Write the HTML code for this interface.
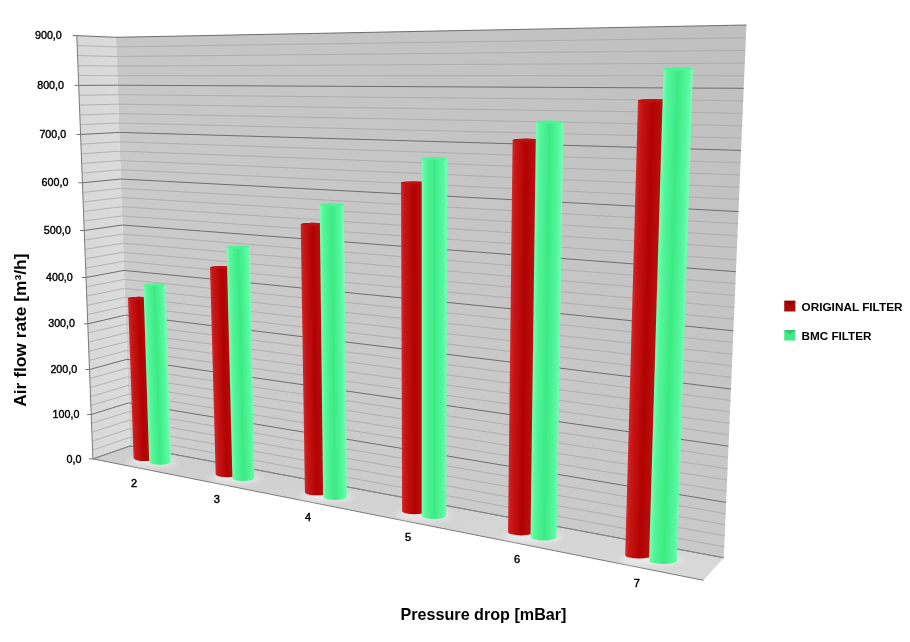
<!DOCTYPE html>
<html><head><meta charset="utf-8"><title>Air flow rate vs pressure drop</title>
<style>html,body{margin:0;padding:0;background:#fff;}svg{display:block;}</style></head>
<body>
<svg width="910" height="642" viewBox="0 0 910 642">
<defs>
<linearGradient id="gBack" x1="130" y1="446" x2="560" y2="-180" gradientUnits="userSpaceOnUse">
<stop offset="0" stop-color="#cfcfcf"/><stop offset="0.5" stop-color="#c6c6c6"/><stop offset="1" stop-color="#bebebe"/></linearGradient>
<linearGradient id="gSide" x1="76" y1="0" x2="130" y2="0" gradientUnits="userSpaceOnUse">
<stop offset="0" stop-color="#d8d8d8"/><stop offset="1" stop-color="#dcdcdc"/></linearGradient>
<linearGradient id="gFloor" x1="0" y1="0" x2="0.1" y2="1">
<stop offset="0" stop-color="#cecece"/><stop offset="1" stop-color="#d8d8d8"/></linearGradient>
<linearGradient id="gRed" x1="0" y1="0" x2="1" y2="0">
<stop offset="0" stop-color="#cc3a3a"/><stop offset="0.12" stop-color="#c01c1c"/><stop offset="0.5" stop-color="#a80404"/><stop offset="0.85" stop-color="#b81414"/><stop offset="1" stop-color="#c22222"/></linearGradient>
<linearGradient id="gGreen" x1="0" y1="0" x2="1" y2="0">
<stop offset="0" stop-color="#7dffb8"/><stop offset="0.15" stop-color="#5cf8a0"/><stop offset="0.5" stop-color="#46f08c"/><stop offset="0.85" stop-color="#64fcaa"/><stop offset="1" stop-color="#86ffc0"/></linearGradient>
<filter id="blur" color-interpolation-filters="sRGB" x="-50%" y="-50%" width="200%" height="200%"><feGaussianBlur stdDeviation="3"/></filter>
<filter id="soft" color-interpolation-filters="sRGB" x="-5%" y="-5%" width="110%" height="110%"><feGaussianBlur stdDeviation="0.5"/></filter>
</defs>
<rect width="910" height="642" fill="#ffffff"/>
<polygon points="92.9,458.9 130.0,446.0 723.8,557.8 703.5,580.3" fill="url(#gFloor)"/>
<polygon points="76.8,35.6 116.0,37.3 130.0,446.0 92.9,458.9" fill="url(#gSide)"/>
<polygon points="116.0,37.3 746.4,25.0 723.8,557.8 130.0,446.0" fill="url(#gBack)"/>
<path d="M92.6,450.1 L129.7,437.4 L724.3,546.8 M92.2,441.2 L129.4,428.8 L724.7,535.8 M91.9,432.3 L129.1,420.2 L725.2,524.7 M91.6,423.4 L128.8,411.6 L725.7,513.6 M90.9,405.5 L128.2,394.3 L726.6,491.3 M90.5,396.6 L127.9,385.6 L727.1,480.0 M90.2,387.6 L127.6,376.8 L727.6,468.8 M89.8,378.5 L127.3,368.1 L728.1,457.5 M89.2,360.4 L126.7,350.5 L729.0,434.8 M88.8,351.3 L126.4,341.7 L729.5,423.4 M88.5,342.1 L126.1,332.9 L730.0,412.0 M88.1,333.0 L125.8,324.0 L730.5,400.5 M87.4,314.6 L125.2,306.2 L731.5,377.4 M87.1,305.4 L124.9,297.3 L731.9,365.8 M86.7,296.1 L124.6,288.4 L732.4,354.2 M86.4,286.8 L124.3,279.4 L732.9,342.5 M85.6,268.1 L123.7,261.3 L733.9,319.1 M85.3,258.8 L123.4,252.3 L734.4,307.3 M84.9,249.4 L123.1,243.2 L734.9,295.5 M84.6,240.0 L122.7,234.1 L735.4,283.6 M83.9,221.0 L122.1,215.9 L736.4,259.8 M83.5,211.5 L121.8,206.7 L737.0,247.8 M83.1,202.0 L121.5,197.5 L737.5,235.8 M82.8,192.4 L121.2,188.3 L738.0,223.7 M82.0,173.2 L120.5,169.7 L739.0,199.4 M81.7,163.6 L120.2,160.5 L739.5,187.3 M81.3,153.9 L119.9,151.1 L740.0,175.0 M80.9,144.2 L119.6,141.8 L740.6,162.8 M80.2,124.7 L118.9,123.0 L741.6,138.1 M79.8,114.9 L118.6,113.6 L742.1,125.7 M79.4,105.1 L118.3,104.2 L742.7,113.3 M79.1,95.3 L118.0,94.7 L743.2,100.8 M78.3,75.5 L117.3,75.7 L744.2,75.7 M77.9,65.6 L117.0,66.1 L744.8,63.1 M77.6,55.6 L116.7,56.5 L745.3,50.4 M77.2,45.6 L116.3,46.9 L745.9,37.7" fill="none" stroke="#a8a8a8" stroke-width="0.8"/>
<path d="M92.9,458.9 L130.0,446.0 L723.8,557.8 M91.2,414.5 L128.5,402.9 L726.1,502.4 M89.5,369.5 L127.0,359.3 L728.5,446.2 M87.8,323.8 L125.5,315.1 L731.0,389.0 M86.0,277.5 L124.0,270.4 L733.4,330.8 M84.2,230.5 L122.4,225.0 L735.9,271.7 M82.4,182.8 L120.9,179.0 L738.5,211.6 M80.6,134.5 L119.3,132.4 L741.1,150.4 M78.7,85.4 L117.6,85.2 L743.7,88.3 M76.8,35.6 L116.0,37.3 L746.4,25.0" fill="none" stroke="#6e6e6e" stroke-width="1"/>
<path d="M88.9,458.9 L92.9,458.9 M87.2,414.5 L91.2,414.5 M85.5,369.5 L89.5,369.5 M83.8,323.8 L87.8,323.8 M82.0,277.5 L86.0,277.5 M80.2,230.5 L84.2,230.5 M78.4,182.8 L82.4,182.8 M76.6,134.5 L80.6,134.5 M74.7,85.4 L78.7,85.4 M72.8,35.6 L76.8,35.6" stroke="#6e6e6e" stroke-width="1" fill="none"/>
<path d="M76.8,35.6 L92.9,458.9 L703.5,580.3" fill="none" stroke="#7a7a7a" stroke-width="1"/>
<path d="M92.9,458.9 L130.0,446.0 L723.8,557.8" fill="none" stroke="#8a8a8a" stroke-width="0.8"/>
<g filter="url(#blur)"><ellipse cx="152.3" cy="461.9" rx="24.7" ry="4.5" fill="#ffffff" opacity="0.55"/><ellipse cx="234.9" cy="478.3" rx="25.2" ry="4.5" fill="#ffffff" opacity="0.55"/><ellipse cx="325.9" cy="496.6" rx="27.1" ry="4.5" fill="#ffffff" opacity="0.55"/><ellipse cx="424.1" cy="515.5" rx="28.0" ry="4.5" fill="#ffffff" opacity="0.55"/><ellipse cx="532.3" cy="537.0" rx="30.3" ry="4.5" fill="#ffffff" opacity="0.55"/><ellipse cx="651.1" cy="560.2" rx="31.9" ry="4.5" fill="#ffffff" opacity="0.55"/></g>
<g filter="url(#soft)">
<linearGradient id="g1" gradientUnits="userSpaceOnUse" x1="128.0" y1="296.8" x2="150.1" y2="296.8" gradientTransform="matrix(1 0 0.0341 1 -10.12 0)"><stop offset="0" stop-color="#d22a2a"/><stop offset="0.12" stop-color="#c81616"/><stop offset="0.5" stop-color="#b00202"/><stop offset="0.85" stop-color="#bc1010"/><stop offset="1" stop-color="#c81c1c"/></linearGradient>
<path d="M128.0,298.1 A11.0,1.3 0 0 1 150.1,298.1 L156.3,458.0 A11.3,3.0 0 0 1 133.6,458.0 Z" fill="url(#g1)"/>
<ellipse cx="139.1" cy="298.1" rx="11.0" ry="1.3" fill="#bc1212"/>
<linearGradient id="g2" gradientUnits="userSpaceOnUse" x1="143.4" y1="283.7" x2="165.5" y2="283.7" gradientTransform="matrix(1 0 0.0320 1 -9.09 0)"><stop offset="0" stop-color="#78ffb4"/><stop offset="0.15" stop-color="#54f69a"/><stop offset="0.5" stop-color="#3cea84"/><stop offset="0.85" stop-color="#58f8a0"/><stop offset="1" stop-color="#7affb8"/></linearGradient>
<path d="M143.4,285.0 A11.0,1.3 0 0 1 165.5,285.0 L171.0,462.0 A10.9,2.8 0 0 1 149.2,462.0 Z" fill="url(#g2)"/>
<ellipse cx="154.4" cy="285.0" rx="11.0" ry="1.3" fill="#50f496"/>
<linearGradient id="g3" gradientUnits="userSpaceOnUse" x1="210.0" y1="266.0" x2="233.4" y2="266.0" gradientTransform="matrix(1 0 0.0269 1 -7.17 0)"><stop offset="0" stop-color="#d22a2a"/><stop offset="0.12" stop-color="#c81616"/><stop offset="0.5" stop-color="#b00202"/><stop offset="0.85" stop-color="#bc1010"/><stop offset="1" stop-color="#c81c1c"/></linearGradient>
<path d="M210.0,267.4 A11.7,1.4 0 0 1 233.4,267.4 L239.2,474.5 A11.8,3.1 0 0 1 215.7,474.5 Z" fill="url(#g3)"/>
<ellipse cx="221.7" cy="267.4" rx="11.7" ry="1.4" fill="#bc1212"/>
<linearGradient id="g4" gradientUnits="userSpaceOnUse" x1="226.6" y1="245.7" x2="250.0" y2="245.7" gradientTransform="matrix(1 0 0.0246 1 -6.06 0)"><stop offset="0" stop-color="#78ffb4"/><stop offset="0.15" stop-color="#54f69a"/><stop offset="0.5" stop-color="#3cea84"/><stop offset="0.85" stop-color="#58f8a0"/><stop offset="1" stop-color="#7affb8"/></linearGradient>
<path d="M226.6,247.1 A11.7,1.4 0 0 1 250.0,247.1 L254.2,478.2 A10.9,2.8 0 0 1 232.4,478.2 Z" fill="url(#g4)"/>
<ellipse cx="238.3" cy="247.1" rx="11.7" ry="1.4" fill="#50f496"/>
<linearGradient id="g5" gradientUnits="userSpaceOnUse" x1="300.7" y1="222.8" x2="324.9" y2="222.8" gradientTransform="matrix(1 0 0.0154 1 -3.43 0)"><stop offset="0" stop-color="#d22a2a"/><stop offset="0.12" stop-color="#c81616"/><stop offset="0.5" stop-color="#b00202"/><stop offset="0.85" stop-color="#bc1010"/><stop offset="1" stop-color="#c81c1c"/></linearGradient>
<path d="M300.7,224.3 A12.1,1.5 0 0 1 324.9,224.3 L328.3,492.3 A11.7,3.0 0 0 1 304.9,492.3 Z" fill="url(#g5)"/>
<ellipse cx="312.8" cy="224.3" rx="12.1" ry="1.5" fill="#bc1212"/>
<linearGradient id="g6" gradientUnits="userSpaceOnUse" x1="319.7" y1="203.4" x2="343.9" y2="203.4" gradientTransform="matrix(1 0 0.0115 1 -2.33 0)"><stop offset="0" stop-color="#78ffb4"/><stop offset="0.15" stop-color="#54f69a"/><stop offset="0.5" stop-color="#3cea84"/><stop offset="0.85" stop-color="#58f8a0"/><stop offset="1" stop-color="#7affb8"/></linearGradient>
<path d="M319.7,204.9 A12.1,1.5 0 0 1 343.9,204.9 L347.0,496.9 A11.9,3.1 0 0 1 323.1,496.9 Z" fill="url(#g6)"/>
<ellipse cx="331.8" cy="204.9" rx="12.1" ry="1.5" fill="#50f496"/>
<linearGradient id="g7" gradientUnits="userSpaceOnUse" x1="401.0" y1="181.4" x2="426.6" y2="181.4" gradientTransform="matrix(1 0 0.0033 1 -0.60 0)"><stop offset="0" stop-color="#d22a2a"/><stop offset="0.12" stop-color="#c81616"/><stop offset="0.5" stop-color="#b00202"/><stop offset="0.85" stop-color="#bc1010"/><stop offset="1" stop-color="#c81c1c"/></linearGradient>
<path d="M401.0,182.9 A12.8,1.5 0 0 1 426.6,182.9 L426.6,511.0 A12.2,3.2 0 0 1 402.1,511.0 Z" fill="url(#g7)"/>
<ellipse cx="413.8" cy="182.9" rx="12.8" ry="1.5" fill="#bc1212"/>
<linearGradient id="g8" gradientUnits="userSpaceOnUse" x1="421.7" y1="157.3" x2="447.3" y2="157.3" gradientTransform="matrix(1 0 0.0000 1 -0.00 0)"><stop offset="0" stop-color="#78ffb4"/><stop offset="0.15" stop-color="#54f69a"/><stop offset="0.5" stop-color="#3cea84"/><stop offset="0.85" stop-color="#58f8a0"/><stop offset="1" stop-color="#7affb8"/></linearGradient>
<path d="M421.7,158.8 A12.8,1.5 0 0 1 447.3,158.8 L446.2,515.7 A12.2,3.2 0 0 1 421.7,515.7 Z" fill="url(#g8)"/>
<ellipse cx="434.5" cy="158.8" rx="12.8" ry="1.5" fill="#50f496"/>
<linearGradient id="g9" gradientUnits="userSpaceOnUse" x1="512.6" y1="138.6" x2="540.1" y2="138.6" gradientTransform="matrix(1 0 -0.0116 1 1.61 0)"><stop offset="0" stop-color="#d22a2a"/><stop offset="0.12" stop-color="#c81616"/><stop offset="0.5" stop-color="#b00202"/><stop offset="0.85" stop-color="#bc1010"/><stop offset="1" stop-color="#c81c1c"/></linearGradient>
<path d="M512.6,140.2 A13.8,1.6 0 0 1 540.1,140.2 L534.6,531.9 A13.3,3.5 0 0 1 508.0,531.9 Z" fill="url(#g9)"/>
<ellipse cx="526.4" cy="140.2" rx="13.8" ry="1.6" fill="#bc1212"/>
<linearGradient id="g10" gradientUnits="userSpaceOnUse" x1="536.0" y1="120.4" x2="563.5" y2="120.4" gradientTransform="matrix(1 0 -0.0131 1 1.58 0)"><stop offset="0" stop-color="#78ffb4"/><stop offset="0.15" stop-color="#54f69a"/><stop offset="0.5" stop-color="#3cea84"/><stop offset="0.85" stop-color="#58f8a0"/><stop offset="1" stop-color="#7affb8"/></linearGradient>
<path d="M536.0,122.1 A13.8,1.6 0 0 1 563.5,122.1 L556.6,537.3 A13.1,3.4 0 0 1 530.5,537.3 Z" fill="url(#g10)"/>
<ellipse cx="549.8" cy="122.1" rx="13.8" ry="1.6" fill="#50f496"/>
<linearGradient id="g11" gradientUnits="userSpaceOnUse" x1="638.0" y1="99.0" x2="667.5" y2="99.0" gradientTransform="matrix(1 0 -0.0279 1 2.76 0)"><stop offset="0" stop-color="#d22a2a"/><stop offset="0.12" stop-color="#c81616"/><stop offset="0.5" stop-color="#b00202"/><stop offset="0.85" stop-color="#bc1010"/><stop offset="1" stop-color="#c81c1c"/></linearGradient>
<path d="M638.0,100.8 A14.8,1.8 0 0 1 667.5,100.8 L653.0,554.9 A13.9,3.6 0 0 1 625.2,554.9 Z" fill="url(#g11)"/>
<ellipse cx="652.8" cy="100.8" rx="14.8" ry="1.8" fill="#bc1212"/>
<linearGradient id="g12" gradientUnits="userSpaceOnUse" x1="663.5" y1="67.2" x2="693.0" y2="67.2" gradientTransform="matrix(1 0 -0.0292 1 1.96 0)"><stop offset="0" stop-color="#78ffb4"/><stop offset="0.15" stop-color="#54f69a"/><stop offset="0.5" stop-color="#3cea84"/><stop offset="0.85" stop-color="#58f8a0"/><stop offset="1" stop-color="#7affb8"/></linearGradient>
<path d="M663.5,69.0 A14.8,1.8 0 0 1 693.0,69.0 L677.0,560.4 A14.0,3.6 0 0 1 649.0,560.4 Z" fill="url(#g12)"/>
<ellipse cx="678.2" cy="69.0" rx="14.8" ry="1.8" fill="#50f496"/>
</g>
<text x="81.6" y="462.5" font-family="Liberation Sans, Arial, sans-serif" font-size="11" stroke="#000" stroke-width="0.4" text-anchor="end" textLength="15" lengthAdjust="spacingAndGlyphs" fill="#000">0,0</text>
<text x="79.4" y="418.1" font-family="Liberation Sans, Arial, sans-serif" font-size="11" stroke="#000" stroke-width="0.4" text-anchor="end" textLength="26.8" lengthAdjust="spacingAndGlyphs" fill="#000">100,0</text>
<text x="77.2" y="373.1" font-family="Liberation Sans, Arial, sans-serif" font-size="11" stroke="#000" stroke-width="0.4" text-anchor="end" textLength="26.8" lengthAdjust="spacingAndGlyphs" fill="#000">200,0</text>
<text x="75.0" y="327.4" font-family="Liberation Sans, Arial, sans-serif" font-size="11" stroke="#000" stroke-width="0.4" text-anchor="end" textLength="26.8" lengthAdjust="spacingAndGlyphs" fill="#000">300,0</text>
<text x="72.8" y="281.1" font-family="Liberation Sans, Arial, sans-serif" font-size="11" stroke="#000" stroke-width="0.4" text-anchor="end" textLength="26.8" lengthAdjust="spacingAndGlyphs" fill="#000">400,0</text>
<text x="70.6" y="234.1" font-family="Liberation Sans, Arial, sans-serif" font-size="11" stroke="#000" stroke-width="0.4" text-anchor="end" textLength="26.8" lengthAdjust="spacingAndGlyphs" fill="#000">500,0</text>
<text x="68.4" y="186.4" font-family="Liberation Sans, Arial, sans-serif" font-size="11" stroke="#000" stroke-width="0.4" text-anchor="end" textLength="26.8" lengthAdjust="spacingAndGlyphs" fill="#000">600,0</text>
<text x="66.2" y="138.1" font-family="Liberation Sans, Arial, sans-serif" font-size="11" stroke="#000" stroke-width="0.4" text-anchor="end" textLength="26.8" lengthAdjust="spacingAndGlyphs" fill="#000">700,0</text>
<text x="64.0" y="89.0" font-family="Liberation Sans, Arial, sans-serif" font-size="11" stroke="#000" stroke-width="0.4" text-anchor="end" textLength="26.8" lengthAdjust="spacingAndGlyphs" fill="#000">800,0</text>
<text x="61.8" y="39.2" font-family="Liberation Sans, Arial, sans-serif" font-size="11" stroke="#000" stroke-width="0.4" text-anchor="end" textLength="26.8" lengthAdjust="spacingAndGlyphs" fill="#000">900,0</text>
<text x="134.0" y="487.3" font-family="Liberation Sans, Arial, sans-serif" font-size="11" stroke="#000" stroke-width="0.45" text-anchor="middle" fill="#000">2</text>
<text x="216.8" y="502.8" font-family="Liberation Sans, Arial, sans-serif" font-size="11" stroke="#000" stroke-width="0.45" text-anchor="middle" fill="#000">3</text>
<text x="308.0" y="520.8" font-family="Liberation Sans, Arial, sans-serif" font-size="11" stroke="#000" stroke-width="0.45" text-anchor="middle" fill="#000">4</text>
<text x="408.0" y="540.6" font-family="Liberation Sans, Arial, sans-serif" font-size="11" stroke="#000" stroke-width="0.45" text-anchor="middle" fill="#000">5</text>
<text x="517.0" y="562.6" font-family="Liberation Sans, Arial, sans-serif" font-size="11" stroke="#000" stroke-width="0.45" text-anchor="middle" fill="#000">6</text>
<text x="636.8" y="586.6" font-family="Liberation Sans, Arial, sans-serif" font-size="11" stroke="#000" stroke-width="0.45" text-anchor="middle" fill="#000">7</text>
<text x="400.5" y="619.7" font-family="Liberation Sans, Arial, sans-serif" font-size="16.5" font-weight="bold" textLength="166" lengthAdjust="spacingAndGlyphs" fill="#000">Pressure drop [mBar]</text>
<text transform="translate(26.2,406.8) rotate(-90)" font-family="Liberation Sans, Arial, sans-serif" font-size="16.5" font-weight="bold" textLength="153.3" lengthAdjust="spacingAndGlyphs" fill="#000">Air flow rate [m³/h]</text>
<rect x="784.2" y="300.8" width="11.2" height="10.7" fill="#a80a0a"/>
<polygon points="784.2,300.8 795.4,300.8 789.8,305.5" fill="#8a0505"/>
<rect x="784.2" y="330" width="11.2" height="10.5" fill="#46e88c"/>
<polygon points="784.2,330 795.4,330 789.8,334.5" fill="#2fc873"/>
<text x="801.5" y="311.0" font-family="Liberation Sans, Arial, sans-serif" font-size="11.6" font-weight="bold" textLength="101" lengthAdjust="spacingAndGlyphs" fill="#000">ORIGINAL FILTER</text>
<text x="801.5" y="339.9" font-family="Liberation Sans, Arial, sans-serif" font-size="11.6" font-weight="bold" textLength="70" lengthAdjust="spacingAndGlyphs" fill="#000">BMC FILTER</text>
</svg>
</body></html>
